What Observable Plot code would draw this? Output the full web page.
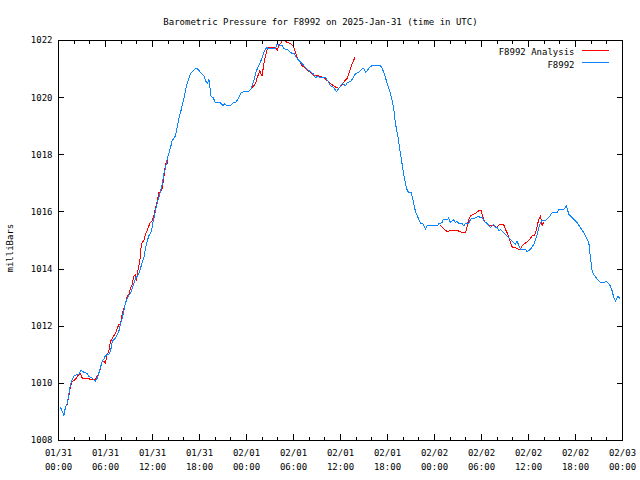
<!DOCTYPE html>
<html>
<head>
<meta charset="utf-8">
<script src="https://cdn.jsdelivr.net/npm/d3@7"></script>
<script src="https://cdn.jsdelivr.net/npm/@observablehq/plot@0.6"></script>
<style>
  html, body { margin: 0; padding: 0; background: #fff; }
  svg { display: block; }
</style>
</head>
<body>
<div id="chart"></div>
<script>
// ---------- data (hours after 2025-01-31 00:00 UTC, pressure in mb) ----------
const startTime = "2025-01-31T00:00:00Z";
const endTime = "2025-02-03T00:00:00Z";
const titleText = "Barometric Pressure for F8992 on 2025-Jan-31 (time in UTC)";
const yLabel = "milliBars";
const seriesNames = ["F8992 Analysis", "F8992"];
const seriesColors = ["#ff0000", "#0a84ff"];
const yTicks = [1008, 1010, 1012, 1014, 1016, 1018, 1020, 1022];

const stationHours = [0.26,0.68,0.89,1.11,1.31,1.53,1.75,2.04,2.59,2.90,
3.23,3.66,3.87,4.30,4.72,4.94,5.14,5.58,5.78,6.00,
6.42,6.64,6.86,7.28,7.70,7.91,8.13,8.34,8.55,8.77,
9.19,9.41,9.83,10.25,10.47,10.89,11.11,11.32,11.53,11.90,
12.00,12.17,12.38,12.60,12.80,13.02,13.24,13.44,13.66,13.88,
14.08,14.30,14.51,14.94,15.15,15.36,15.57,15.79,16.00,16.21,
16.43,16.63,16.85,17.07,17.49,17.71,18.13,18.55,18.77,18.98,
19.19,19.31,19.40,19.75,20.04,20.68,21.03,21.23,21.45,21.96,
22.30,22.60,23.02,23.32,23.74,24.29,24.60,24.93,25.28,25.70,
26.00,26.21,26.55,26.85,27.70,27.92,28.25,28.56,28.76,29.20,
29.53,29.83,30.13,30.38,30.68,31.11,31.53,31.95,32.51,32.81,
33.03,33.45,34.09,34.51,34.72,35.14,35.49,35.78,36.22,36.64,
36.85,37.28,37.62,37.91,38.34,38.77,38.97,39.19,39.41,39.83,
40.05,41.11,41.32,41.53,41.74,41.96,42.17,42.38,42.60,42.80,
42.93,43.11,43.37,43.53,43.75,43.95,44.17,44.43,44.72,45.02,
45.28,45.45,45.66,45.92,46.21,46.56,46.85,47.07,48.34,48.55,
48.98,49.06,49.40,49.62,49.82,50.04,50.26,50.46,50.68,50.90,
51.10,51.54,51.74,51.96,52.38,52.60,53.23,53.66,53.87,54.09,
54.29,54.73,55.15,55.57,55.79,56.00,56.21,56.43,56.85,57.28,
57.49,57.92,58.34,58.56,58.76,58.98,59.62,59.83,60.26,60.68,
60.89,61.11,61.31,61.53,61.75,62.17,62.59,63.02,63.66,63.87,
64.51,64.85,65.14,65.58,66.22,66.64,67.06,67.49,67.70,67.91,
68.13,68.34,68.77,69.19,69.61,69.96,70.47,70.69,70.89,71.11,
71.40,71.66];

const stationPressure = [1009.16,1008.88,1009.16,1009.30,1009.61,1009.96,1010.14,1010.28,1010.31,1010.46,
1010.39,1010.35,1010.25,1010.18,1010.07,1010.18,1010.35,1010.77,1010.84,1010.98,
1011.02,1011.12,1011.47,1011.58,1011.82,1012.07,1012.28,1012.53,1012.81,1012.98,
1013.16,1013.33,1013.68,1013.82,1014.04,1014.39,1014.74,1014.98,1015.16,1015.33,
1015.58,1015.75,1016.04,1016.32,1016.49,1016.74,1016.98,1017.33,1017.54,1017.86,
1018.04,1018.25,1018.49,1018.67,1018.95,1019.26,1019.47,1019.72,1019.96,1020.25,
1020.49,1020.67,1020.84,1020.91,1021.02,1021.02,1020.88,1020.77,1020.60,1020.49,
1020.63,1020.49,1020.07,1020.00,1019.82,1019.82,1019.72,1019.79,1019.72,1019.72,
1019.82,1019.82,1020.00,1020.18,1020.21,1020.21,1020.32,1020.60,1020.95,1021.19,
1021.40,1021.58,1021.75,1021.72,1021.72,1021.89,1021.82,1021.82,1021.72,1021.68,
1021.61,1021.54,1021.54,1021.40,1021.30,1021.19,1021.05,1020.95,1020.84,1020.70,
1020.74,1020.70,1020.70,1020.53,1020.42,1020.35,1020.21,1020.32,1020.49,1020.42,
1020.53,1020.56,1020.70,1020.84,1020.88,1021.02,1021.02,1020.88,1020.95,1021.09,
1021.12,1021.12,1021.02,1020.88,1020.70,1020.49,1020.32,1020.14,1019.89,1019.61,
1019.26,1018.95,1018.60,1018.25,1017.89,1017.51,1017.16,1016.81,1016.67,1016.67,
1016.39,1016.14,1015.96,1015.79,1015.61,1015.58,1015.40,1015.51,1015.51,1015.59,
1015.62,1015.72,1015.75,1015.72,1015.79,1015.62,1015.68,1015.72,1015.62,1015.68,
1015.59,1015.59,1015.51,1015.59,1015.59,1015.75,1015.79,1015.86,1015.79,1015.80,
1015.68,1015.59,1015.45,1015.57,1015.45,1015.47,1015.33,1015.39,1015.27,1015.16,
1015.10,1014.98,1014.87,1014.98,1014.81,1014.69,1014.69,1014.61,1014.69,1014.87,
1015.04,1015.22,1015.45,1015.62,1015.71,1015.71,1015.80,1015.98,1015.98,1016.09,
1016.09,1016.21,1015.92,1015.80,1015.62,1015.45,1015.27,1015.04,1014.92,1014.40,
1013.93,1013.81,1013.64,1013.52,1013.52,1013.58,1013.40,1013.23,1012.99,1012.88,
1013.05,1012.97];

// Analysis: three separate runs
const analysis1Hours = [1.11,1.31,1.53,1.75,2.17,2.59,2.81,3.03,3.66,4.09,
4.72,4.94,5.14,5.36,5.58,5.78,6.00,6.13,6.42,6.64,
6.86,7.28,7.70,7.91,8.13,8.55,8.77,8.98,9.19,9.41,
9.61,9.83,9.96,10.12,10.38,10.56,10.69,10.89,11.11,11.40,
11.66,11.96,12.17,12.38,12.60,12.80,13.02,13.24,13.44,13.66,
13.88,13.95];
const analysis1Pressure = [1009.26,1009.54,1009.89,1010.07,1010.14,1010.31,1010.35,1010.18,1010.18,1010.14,
1010.14,1010.25,1010.35,1010.53,1010.77,1010.77,1010.70,1010.95,1011.12,1011.47,
1011.58,1011.75,1012.07,1012.07,1012.42,1012.81,1013.05,1013.12,1013.33,1013.47,
1013.75,1013.82,1013.61,1013.93,1014.28,1014.81,1014.95,1014.98,1015.23,1015.40,
1015.61,1015.68,1015.86,1016.14,1016.39,1016.67,1016.67,1016.84,1017.19,1017.68,
1017.79,1017.68];

const analysis2Hours = [24.73,25.15,25.37,25.70,25.79,26.00,26.21,26.43,26.72,27.28,
27.70,27.92,28.12,28.34,28.56,28.76,29.20,29.62,29.96,30.26,
30.47,30.68,31.11,31.53,32.17,32.59,33.03,33.87,34.30,34.72,
35.23,35.78,36.22,36.64,36.85,37.06,37.28,37.49,37.83];
const analysis2Pressure = [1020.36,1020.49,1020.70,1020.95,1020.84,1020.77,1021.19,1021.47,1021.75,1021.75,
1021.75,1021.65,1021.82,1021.89,1022.00,1022.04,1021.93,1021.89,1021.82,1021.58,
1021.40,1021.30,1021.12,1021.02,1020.88,1020.77,1020.77,1020.70,1020.60,1020.49,
1020.39,1020.32,1020.46,1020.63,1020.67,1020.84,1021.02,1021.19,1021.40];

const analysis3Hours = [48.68,48.98,49.40,49.62,50.26,50.68,51.10,51.54,51.96,52.17,
52.38,52.60,53.02,53.36,53.78,53.96,54.09,54.29,54.51,54.93,
55.57,56.00,56.21,56.64,56.85,57.06,57.28,57.49,57.79,57.92,
58.34,58.76,58.98,59.19,59.49,59.83,60.04,60.47,60.77,60.89,
61.11,61.31,61.53,61.75,61.88];
const analysis3Pressure = [1015.54,1015.47,1015.36,1015.31,1015.36,1015.36,1015.33,1015.27,1015.27,1015.51,
1015.74,1015.86,1015.92,1015.98,1016.06,1016.04,1015.92,1015.74,1015.62,1015.51,
1015.51,1015.45,1015.54,1015.57,1015.54,1015.39,1015.27,1015.10,1014.87,1014.77,
1014.75,1014.69,1014.69,1014.81,1014.89,1014.95,1015.01,1015.16,1015.19,1015.27,
1015.51,1015.74,1015.86,1015.51,1015.62];

// ---------- build tables ----------
const t0 = Date.parse(startTime);
const toDate = h => new Date(t0 + h * 3600e3);
const station = stationHours.map((h, i) => ({t: toDate(h), p: stationPressure[i]}));
const analysis = [
  [analysis1Hours, analysis1Pressure],
  [analysis2Hours, analysis2Pressure],
  [analysis3Hours, analysis3Pressure]
].flatMap(([H, P], s) => H.map((h, i) => ({t: toDate(h), p: P[i], run: s})));

const xStart = new Date(startTime), xEnd = new Date(endTime);
const xMajor = d3.utcHour.every(6).range(xStart, new Date(+xEnd + 1));
const xMinor = d3.utcHour.every(2).range(xStart, new Date(+xEnd + 1));
const blank = () => "";
const font = "'DejaVu Sans Mono', 'Liberation Mono', monospace";

const chart = Plot.plot({
  width: 640,
  height: 480,
  marginLeft: 58,
  marginRight: 18,
  marginTop: 40,
  marginBottom: 40,
  style: {fontFamily: font, fontSize: "9px", background: "#fff", color: "#000", overflow: "visible"},
  x: {type: "utc", domain: [xStart, xEnd]},
  y: {domain: [1008, 1022]},
  marks: [
    Plot.line(analysis, {x: "t", y: "p", z: "run", stroke: seriesColors[0], strokeWidth: 1, clip: true, curve: "linear"}),
    Plot.line(station, {x: "t", y: "p", stroke: seriesColors[1], strokeWidth: 1, clip: true, curve: "linear"}),
    Plot.frame({stroke: "#000", strokeWidth: 1}),
    // inward tick marks
    Plot.axisX({anchor: "bottom", ticks: xMinor, tickSize: -3, tickFormat: blank, label: null}),
    Plot.axisX({anchor: "bottom", ticks: xMajor, tickSize: -6, tickFormat: blank, label: null}),
    Plot.axisX({anchor: "top", ticks: xMinor, tickSize: -3, tickFormat: blank, label: null}),
    Plot.axisX({anchor: "top", ticks: xMajor, tickSize: -6, tickFormat: blank, label: null}),
    Plot.axisY({anchor: "left", ticks: yTicks, tickSize: -6, tickFormat: blank, label: null}),
    Plot.axisY({anchor: "right", ticks: yTicks, tickSize: -6, tickFormat: blank, label: null}),
    // tick labels
    Plot.axisX({anchor: "bottom", ticks: xMajor, tickSize: 0, tickPadding: 9, tickFormat: d3.utcFormat("%m/%d"), label: null}),
    Plot.axisX({anchor: "bottom", ticks: xMajor, tickSize: 0, tickPadding: 23, tickFormat: d3.utcFormat("%H:%M"), label: null}),
    Plot.axisY({anchor: "left", ticks: yTicks, tickSize: 0, tickPadding: 6, tickFormat: d => String(d), label: null}),
    // y axis title
    Plot.text([yLabel], {frameAnchor: "left", dx: -48, dy: 32, rotate: -90, fill: "#000"}),
    // title
    Plot.text([titleText], {frameAnchor: "top", dx: -20, dy: -22, fill: "#000"}),
    // legend labels
    Plot.text([seriesNames[0]], {frameAnchor: "top-right", dx: -48, dy: 8, textAnchor: "end", fill: "#000"}),
    Plot.text([seriesNames[1]], {frameAnchor: "top-right", dx: -48, dy: 21, textAnchor: "end", fill: "#000"})
  ]
});

// legend sample lines
const svg = d3.select(chart);
const fx = 622; // right frame edge
[[0, 50], [1, 62]].forEach(([i, y]) => {
  svg.append("line")
    .attr("x1", fx - 40).attr("x2", fx - 13)
    .attr("y1", y + 0.5).attr("y2", y + 0.5)
    .attr("stroke", seriesColors[i]).attr("stroke-width", 1);
});
svg.selectAll("path").attr("shape-rendering", "crispEdges");
svg.selectAll("line").attr("shape-rendering", "crispEdges");

document.getElementById("chart").appendChild(chart);
</script>
</body>
</html>
